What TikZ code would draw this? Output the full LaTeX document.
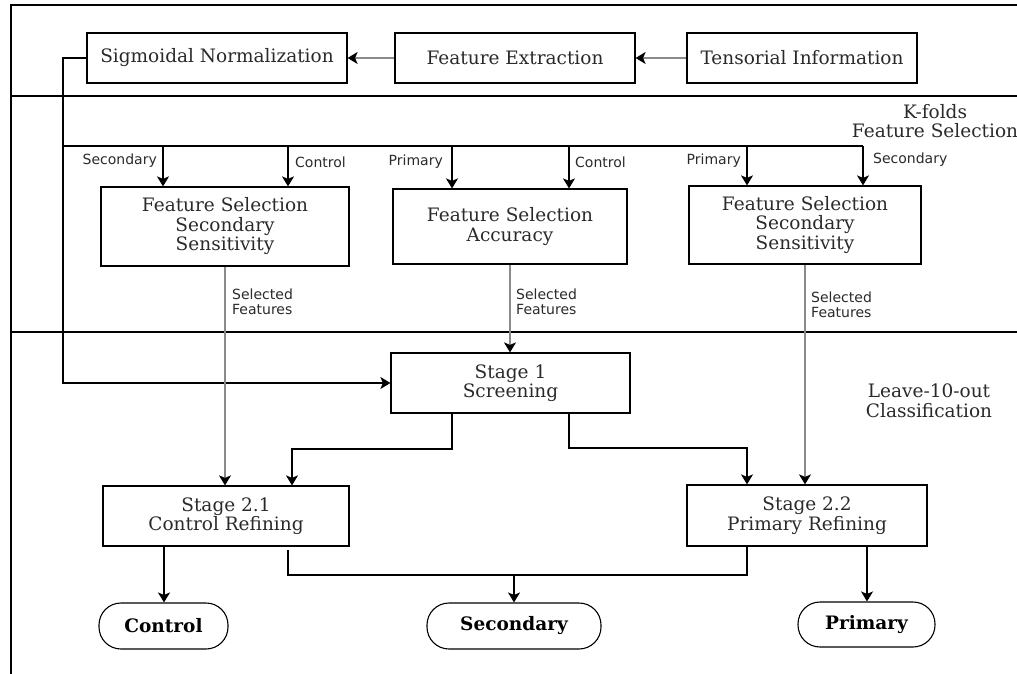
\documentclass[tikz,border=0pt]{standalone}
\usepackage{fontspec}
\setmainfont{DejaVu Serif}
\newfontfamily\lblfont{DejaVu Sans}
\usetikzlibrary{arrows.meta,positioning}
\definecolor{txt}{HTML}{2A2A2A}
\definecolor{gline}{HTML}{8A8A8A}
\begin{document}
\begin{tikzpicture}[x=1pt,y=-1pt,
  box/.style={draw=black,line width=1.2pt,text=txt,align=center,inner sep=0pt,font=\fontsize{18.5}{19.5}\selectfont},
  term/.style={draw=black,line width=1.1pt,rounded corners=22pt,text=black,inner sep=0pt,font=\fontsize{18.5}{19.5}\selectfont\bfseries},
  arr/.style={line width=1.2pt,-{Stealth[length=10pt,width=12pt,inset=2.5pt]}},
  garr/.style={draw=gline,line width=1.4pt,-{Stealth[length=10pt,width=12pt,inset=2.5pt,fill=black,color=black]}},
  ln/.style={line width=1.2pt},
  lbl/.style={text=txt,inner sep=0pt,font=\lblfont\fontsize{14}{14.5}\selectfont},
  sec/.style={text=txt,inner sep=0pt,align=center,font=\fontsize{18.5}{19.5}\selectfont}]
\useasboundingbox (0,0) rectangle (1017,674);
% frame
\draw[line width=1.3pt] (1017,5) -- (11,5) -- (11,674);
\draw[line width=1.3pt] (11,96) -- (1017,96);
\draw[line width=1.3pt] (11,332) -- (1017,332);
% top row
\node[box,minimum width=260pt,minimum height=50pt] (sig) at (217,58) {Sigmoidal Normalization};
\node[box,minimum width=240pt,minimum height=50pt] (fe) at (515,58) {Feature Extraction};
\node[box,minimum width=230pt,minimum height=50pt] (ti) at (802,58) {Tensorial Information};
% section labels
\node[sec] (kf) at (935,121) {K-folds\\Feature Selection};
\node[sec] (lo) at (929,401) {Leave-10-out\\Classification};
% feature selection boxes
\node[box,minimum width=248pt,minimum height=79pt] (fs1) at (225,226.5) {Feature Selection\\Secondary\\Sensitivity};
\node[box,minimum width=234pt,minimum height=75pt] (fs2) at (510,226.5) {Feature Selection\\Accuracy};
\node[box,minimum width=232pt,minimum height=78pt] (fs3) at (805,225) {Feature Selection\\Secondary\\Sensitivity};
% stages
\node[box,minimum width=239pt,minimum height=60pt] (s1) at (510.5,383) {Stage 1\\Screening};
\node[box,minimum width=246pt,minimum height=60pt] (s21) at (226,516) {Stage 2.1\\Control Refining};
\node[box,minimum width=240pt,minimum height=61pt] (s22) at (807,515.5) {Stage 2.2\\Primary Refining};
% terminals
\node[term,minimum width=129pt,minimum height=46pt] (ct) at (163.5,626) {Control};
\node[term,minimum width=174pt,minimum height=46pt] (sc) at (514,626) {Secondary};
\node[term,minimum width=137pt,minimum height=45pt] (pr) at (866.5,624.5) {Primary};
% top arrows
\draw[garr] (ti.west) -- (fe.east);
\draw[garr] (fe.west) -- (sig.east);
% bus
\coordinate (bl) at (63,146);
\coordinate (br) at (863,146);
\coordinate (b1) at (163,146);
\coordinate (b2) at (288,146);
\coordinate (b3) at (452,146);
\coordinate (b4) at (569,146);
\coordinate (b5) at (747,146);
\draw[ln] (sig.west) -| (bl) -- (br);
\draw[arr] (bl) |- (s1.west);
\draw[arr] (b1) -- (b1 |- fs1.north);
\draw[arr] (b2) -- (b2 |- fs1.north);
\draw[arr] (b3) -- (b3 |- fs2.north);
\draw[arr] (b4) -- (b4 |- fs2.north);
\draw[arr] (b5) -- (b5 |- fs3.north);
\draw[arr] (br) -- (br |- fs3.north);
\node[lbl,anchor=east] (l1) at (157,161) {Secondary};
\node[lbl,anchor=west] (l2) at (295,162) {Control};
\node[lbl,anchor=east] (l3) at (443,162) {Primary};
\node[lbl,anchor=west] (l4) at (575,162) {Control};
\node[lbl,anchor=east] (l5) at (741,161) {Primary};
\node[lbl,anchor=west] (l6) at (873,160) {Secondary};
% selected features
\draw[garr] (fs1.south) -- (fs1.south |- s21.north);
\draw[garr] (fs2.south) -- (fs2.south |- s1.north);
\draw[garr] (fs3.south) -- (fs3.south |- s22.north);
\node[lbl,anchor=west,align=left] (sf1) at (232,302) {Selected\\Features};
\node[lbl,anchor=west,align=left] (sf2) at (516,302) {Selected\\Features};
\node[lbl,anchor=west,align=left] (sf3) at (811,305) {Selected\\Features};
% screening to stage 2
\coordinate (d1) at (452,449);
\coordinate (d2) at (569,448);
\draw[arr] (d1 |- s1.south) -- (d1) -| (292,0 |- s21.north);
\draw[arr] (d2 |- s1.south) -- (d2) -| (747,0 |- s22.north);
% stage 2 to outputs
\draw[arr] (164,0 |- s21.south) -- (164,0 |- ct.north);
\draw[arr] (867,0 |- s22.south) -- (867,0 |- pr.north);
\coordinate (m) at (514,575);
\draw[ln] (288,550) |- (m) -| (747,0 |- s22.south);
\draw[arr] (m) -- (sc.north);
\end{tikzpicture}
\end{document}
